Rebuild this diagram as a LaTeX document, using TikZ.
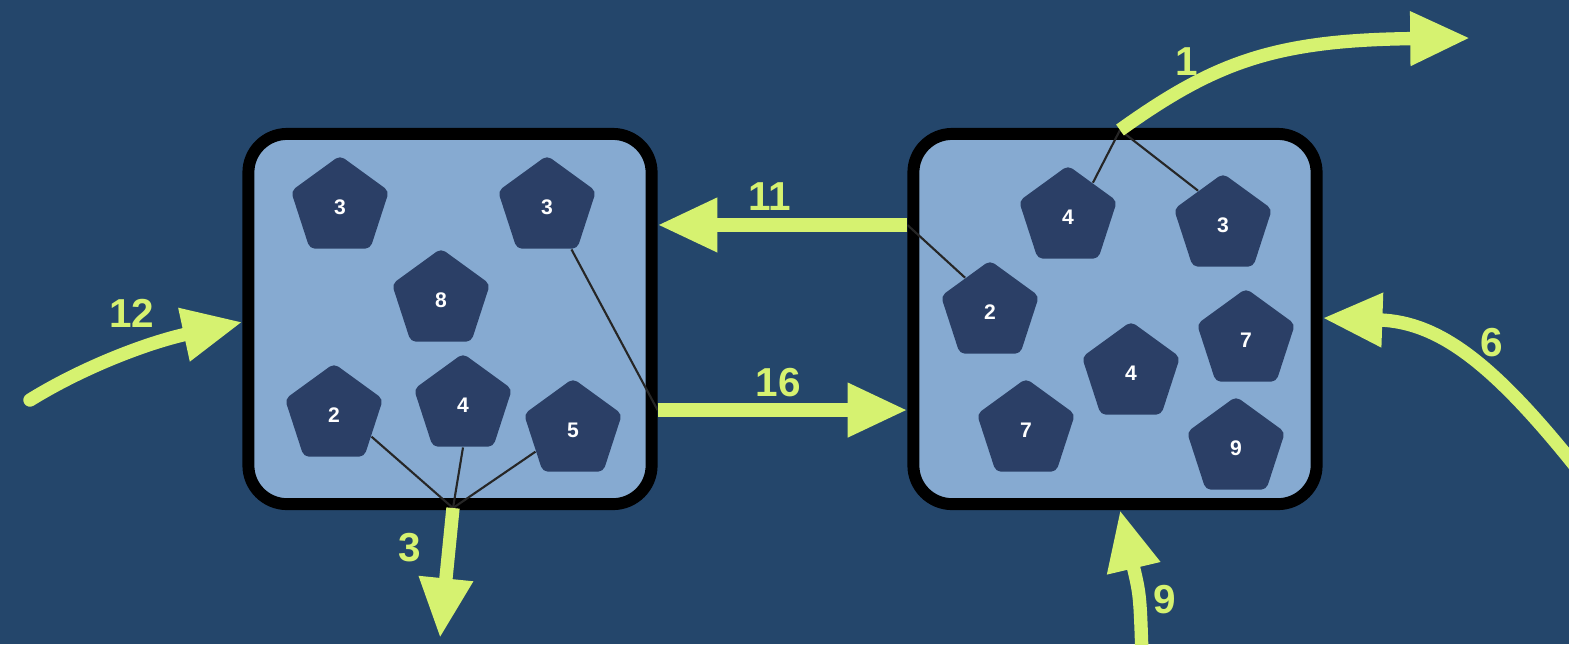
\documentclass[tikz,border=0pt]{standalone}
\usepackage{fontspec}
\setmainfont{Liberation Sans}
\usepackage{tikz}
\usetikzlibrary{calc}
\usetikzlibrary{positioning}
\usetikzlibrary{shapes.geometric}
\usetikzlibrary{arrows.meta}
\definecolor{bgnavy}{HTML}{24466B}
\definecolor{cellfill}{HTML}{86AAD1}
\definecolor{molfill}{HTML}{2B3F66}
\definecolor{flowgreen}{HTML}{D6F270}
\tikzstyle{cellbox} = [draw=black, fill=cellfill, line width=3.4pt, rounded corners=11pt, minimum width=4.03cm, minimum height=3.7cm]
\tikzstyle{molnode} = [regular polygon, regular polygon sides=5, fill=molfill, minimum size=1.03cm, inner sep=0pt, rounded corners=1.5pt, text=white, font=\fontsize{6}{8}\selectfont\bfseries]
\tikzstyle{flow} = [flowgreen, line width=3.8pt, -{Triangle[length=17pt,width=14.5pt]}]
\tikzstyle{flowlabel} = [text=flowgreen, font=\fontsize{11.5}{14}\selectfont\bfseries, inner sep=0pt]
\tikzstyle{tie} = [black!85, line width=0.6pt]

\begin{document}
\begin{tikzpicture}[x=0.01cm, y=-0.01cm]
  \fill[bgnavy] (0,0) rectangle (1569,644);
  \useasboundingbox (0,0) rectangle (1569,644);

  \node[cellbox] (L) at (450,319) {};
  \node[cellbox] (R) at (1115,319) {};
  \coordinate (L_out) at (453,508);
  \coordinate (R_out) at (1120,130);

  \node[molnode] (L_3a) at (340,207) {3};
  \node[molnode] (L_3b) at (547,207) {3};
  \node[molnode] (L_8) at (441,300) {8};
  \node[molnode] (L_2) at (334,415) {2};
  \node[molnode] (L_4) at (463,405) {4};
  \node[molnode] (L_5) at (573,430) {5};

  \node[molnode] (R_4a) at (1068,217) {4};
  \node[molnode] (R_3) at (1223,225) {3};
  \node[molnode] (R_2) at (990,312) {2};
  \node[molnode] (R_7a) at (1246,340) {7};
  \node[molnode] (R_4b) at (1131,373) {4};
  \node[molnode] (R_7b) at (1026,430) {7};
  \node[molnode] (R_9) at (1236,448) {9};

  \draw[tie] (L_3b.-60) -- ([yshift=-0.91cm]L.east);
  \draw[tie] (L_2.-30) -- (L_out);
  \draw[tie] (L_4.south) -- (L_out);
  \draw[tie] (L_5.-150) -- (L_out);
  \draw[tie] (R_4a.54) -- (R_out);
  \draw[tie] (R_3.126) -- (R_out);
  \draw[tie] (R_2.126) -- ([yshift=0.94cm]R.west);

  \coordinate (src12) at (30,400);
  \coordinate (dst1) at (1470,38);
  \coordinate (src6) at (1580,472);
  \coordinate (src9) at (1142,655);
  \coordinate (dst3) at (440,638);

  \draw[flow] ([yshift=0.94cm]R.west) -- ([yshift=0.94cm]L.east);
  \draw[flow] ([yshift=-0.91cm]L.east) -- ([yshift=-0.91cm]R.west);
  \draw[flow, line cap=round] (src12) .. controls (85,366) and (150,342) .. ([yshift=-0.03cm]L.west);
  \draw[flow] (L_out) -- (dst3);
  \draw[flow] (R_out) .. controls (1215,62) and (1275,40) .. (dst1);
  \draw[flow] (src6) .. controls (1495,365) and (1440,322) .. ([yshift=0.01cm]R.east);
  \draw[flow] (src9) .. controls (1140,595) .. (R.south -| 1120,0);

  \node[flowlabel] (n11) at (770,197) {11};
  \node[flowlabel] (n16) at (778,383) {16};
  \node[flowlabel] (n12) at (132,313) {12};
  \node[flowlabel] (n3) at (410,548) {3};
  \node[flowlabel] (n1) at (1187,62) {1};
  \node[flowlabel] (n6) at (1492,343) {6};
  \node[flowlabel] (n9) at (1165,600) {9};
\end{tikzpicture}
\end{document}
